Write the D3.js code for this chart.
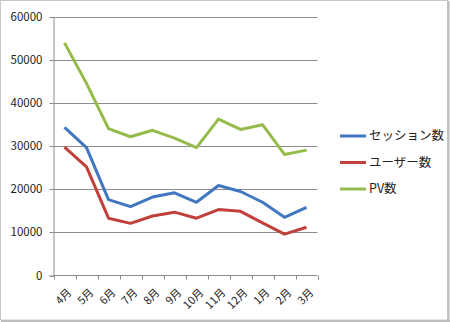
<!DOCTYPE html>
<html>
<head>
<meta charset="utf-8">
<script src="https://cdn.jsdelivr.net/npm/d3@7"></script>
<style>
  html, body { margin: 0; padding: 0; background: #fff; }
  svg text { font-family: "Noto Sans CJK JP", "DejaVu Sans", sans-serif; fill: #222; }
</style>
</head>
<body>
<svg id="chart" width="450" height="322"></svg>
<script>
const months = ["4月", "5月", "6月", "7月", "8月", "9月", "10月", "11月", "12月", "1月", "2月", "3月"];
const sessions = [34400, 29700, 17600, 16000, 18200, 19200, 17000, 20900, 19500, 17000, 13500, 15800];
const users = [29800, 25200, 13300, 12100, 13800, 14700, 13300, 15300, 14900, 12200, 9600, 11200];
const pageviews = [54000, 44600, 34100, 32200, 33700, 31900, 29700, 36300, 33900, 35000, 28100, 29100];
const seriesNames = ["セッション数", "ユーザー数", "PV数"];
const seriesColors = ["#4177c1", "#c0413c", "#95bb4b"];
const yTicks = [0, 10000, 20000, 30000, 40000, 50000, 60000];

const series = [sessions, users, pageviews].map((values, i) => ({
  name: seriesNames[i], color: seriesColors[i], values
}));

const svg = d3.select("#chart");

// outer frame
svg.append("rect").attr("x", 0.5).attr("y", 0.5).attr("width", 447).attr("height", 319.5)
  .attr("fill", "none").attr("stroke", "#c8c8c8");
svg.append("line").attr("x1", 448.5).attr("x2", 448.5).attr("y1", 1).attr("y2", 322)
  .attr("stroke", "#bdbdbd").attr("stroke-width", 2);
svg.append("line").attr("x1", 1).attr("x2", 450).attr("y1", 321).attr("y2", 321)
  .attr("stroke", "#bdbdbd").attr("stroke-width", 2);

const plot = { left: 53.5, right: 317.5, top: 17, bottom: 275.5 };

const x = d3.scaleBand().domain(months).range([plot.left, plot.right]);
const y = d3.scaleLinear().domain([0, 60000]).range([plot.bottom, plot.top]);

// horizontal gridlines
svg.append("g").selectAll("line").data(yTicks.filter(t => t > 0)).join("line")
  .attr("x1", plot.left).attr("x2", plot.right)
  .attr("y1", d => Math.round(y(d)) + 0.5).attr("y2", d => Math.round(y(d)) + 0.5)
  .attr("stroke", "#8c8c8c").attr("stroke-width", 1);

// y axis
const yAxis = svg.append("g").attr("transform", `translate(${plot.left},0)`)
  .call(d3.axisLeft(y).tickValues(yTicks).tickSize(4).tickPadding(7).tickFormat(d3.format("d")));
yAxis.select(".domain").attr("stroke", "#8c8c8c");
yAxis.selectAll(".tick line").attr("stroke", "#8c8c8c");
yAxis.selectAll(".tick").attr("transform", d => `translate(0,${Math.round(y(d)) + 0.5})`);
yAxis.selectAll("text").attr("font-size", 11.5).style("fill", "#222")
  .attr("font-family", '"Liberation Sans", Arial, sans-serif');

// x axis with ticks at category boundaries
const xAxis = svg.append("g").attr("transform", `translate(0,${plot.bottom})`);
xAxis.append("line").attr("x1", plot.left).attr("x2", plot.right).attr("y1", 0).attr("y2", 0)
  .attr("stroke", "#8c8c8c");
const boundaries = months.map(m => x(m)).concat([plot.right]);
xAxis.selectAll("line.b").data(boundaries).join("line").attr("class", "b")
  .attr("x1", d => Math.round(d) + 0.5).attr("x2", d => Math.round(d) + 0.5)
  .attr("y1", 0).attr("y2", 4).attr("stroke", "#8c8c8c");
xAxis.selectAll("text").data(months).join("text")
  .attr("transform", d => `translate(${x(d) + x.bandwidth() / 2 + 5},${15}) rotate(-45)`)
  .attr("text-anchor", "end").attr("font-size", 11).attr("dy", "0.35em")
  .text(d => d);

// lines
const line = d3.line()
  .x((d, i) => x(months[i]) + x.bandwidth() / 2)
  .y(d => y(d));
svg.append("g").selectAll("path").data(series).join("path")
  .attr("d", s => line(s.values))
  .attr("fill", "none").attr("stroke", s => s.color).attr("stroke-width", 3)
  .attr("stroke-linejoin", "round");

// legend
const legend = svg.append("g").selectAll("g").data(series).join("g")
  .attr("transform", (s, i) => `translate(340,${136 + i * 26.5})`);
legend.append("line").attr("x1", 0).attr("x2", 26).attr("y1", 0).attr("y2", 0)
  .attr("stroke", s => s.color).attr("stroke-width", 3);
legend.append("text").attr("x", 29).attr("dy", "0.35em").attr("font-size", 12.5)
  .text(s => s.name);
</script>
</body>
</html>
